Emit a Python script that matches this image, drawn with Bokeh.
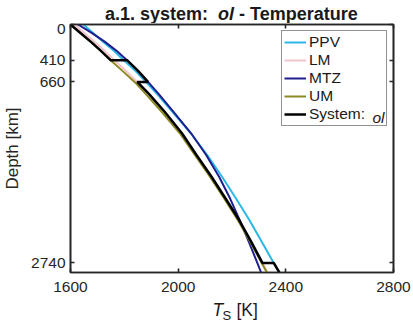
from bokeh.plotting import figure
from bokeh.layouts import column
from bokeh.models import Range1d, LinearAxis, FixedTicker, Legend, LegendItem, Label
from bokeh.embed import file_html
from bokeh.resources import INLINE

# Depth grid [km] and temperature profiles T_S [K] for each mantle layer
depth = [0, 100, 200, 300, 410, 530, 660, 800, 1000, 1250, 1500, 1750, 2000, 2250, 2500, 2740, 2850]
ppv = [1648, 1685, 1722, 1760, 1798, 1840, 1880, 1922, 1978, 2047, 2108, 2163, 2215, 2265, 2311, 2355, 2376]
lm = [1615, 1652, 1690, 1726, 1763, 1805, 1848, 1892, 1949, 2014, 2068, 2124, 2176, 2227, 2272, 2313, 2332]
mtz = [1628, 1680, 1728, 1770, 1810, 1850, 1888, 1928, 1982, 2048, 2104, 2152, 2193, 2229, 2263, 2294, 2308]
um = [1600, 1638, 1676, 1712, 1749, 1792, 1838, 1880, 1938, 2006, 2062, 2118, 2171, 2222, 2268, 2310, 2330]

# Layer boundaries used by the olivine system
boundaries = [0, 410, 660, 2740, 2850]
x_ticks = [1600, 2000, 2400, 2800]
y_ticks = [0, 410, 660, 2740]

FONT = "Liberation Sans"
INK = "#262626"
TEXT = "#1a1a1a"
W = 413

# System profile: UM above 410 km, MTZ to 660 km, LM to 2740 km, PPV below
system_layers = [um, mtz, lm, ppv]
sys_t, sys_d = [], []
for k, prof in enumerate(system_layers):
    lo, hi = boundaries[k], boundaries[k + 1]
    for d, t in zip(depth, prof):
        if lo <= d <= hi:
            sys_d.append(d)
            sys_t.append(t)


def text_strip(height):
    # Blank strip for rows of mixed-style text; its frame lines up with the
    # main panel's frame (70..393 px), so x data units equal page pixels
    f = figure(width=W, height=height, output_backend="svg", toolbar_location=None,
               x_range=Range1d(70, 393), y_range=Range1d(0, height),
               x_axis_location=None, y_axis_location=None, title=None,
               min_border_left=0, min_border_right=0, min_border_top=0, min_border_bottom=0)
    f.outline_line_color = None
    f.xgrid.visible = False
    f.ygrid.visible = False
    return f


def put(fig, x, y, text, size, style="normal", align="left", baseline="alphabetic", units="data"):
    fig.add_layout(Label(x=x, y=y, x_units=units, y_units=units, text=text,
                         text_font=FONT, text_font_size=size, text_font_style=style,
                         text_align=align, text_baseline=baseline, text_color=TEXT))


# Title row, centred over the frame
head = text_strip(23)
put(head, 207.5, 10, "a.1. system:", "18px", "bold", "right")
put(head, 225.5, 10, "ol", "18px", "bold italic", "center")
put(head, 238.5, 10, "- Temperature", "18px", "bold", "left")

# Main panel
p = figure(width=W, height=277, output_backend="svg", toolbar_location=None, title=None,
           x_range=Range1d(1600, 2800), y_range=Range1d(2850, 0),
           min_border_left=70, min_border_right=20, min_border_top=1, min_border_bottom=28)
p.xgrid.visible = False
p.ygrid.visible = False
p.outline_line_color = INK
p.outline_line_width = 1.6
p.background_fill_color = "white"
p.border_fill_color = "white"


def style_axis(ax, ticks, show_labels):
    ax.ticker = FixedTicker(ticks=ticks)
    ax.minor_tick_line_color = None
    ax.minor_tick_in = 0
    ax.minor_tick_out = 0
    ax.major_tick_in = 4
    ax.major_tick_out = 0
    ax.major_tick_line_color = INK
    ax.major_tick_line_width = 1.6
    ax.axis_line_color = INK
    ax.axis_line_width = 1.6
    ax.major_label_text_font = FONT
    ax.major_label_text_color = INK
    if show_labels:
        ax.major_label_text_font_size = "15.5px"
    else:
        ax.major_label_text_font_size = "0px"
        ax.major_label_standoff = 0
        ax.major_label_overrides = {t: "" for t in ticks}


style_axis(p.xaxis[0], x_ticks, True)
style_axis(p.yaxis[0], y_ticks, True)
p.xaxis[0].major_label_standoff = 9
p.yaxis[0].major_label_standoff = 5
p.yaxis[0].axis_label = "Depth [km]"
p.yaxis[0].axis_label_text_font = FONT
p.yaxis[0].axis_label_text_font_size = "17px"
p.yaxis[0].axis_label_text_font_style = "normal"
p.yaxis[0].axis_label_text_color = INK
p.yaxis[0].axis_label_standoff = 6

top_axis = LinearAxis()
style_axis(top_axis, x_ticks, False)
p.add_layout(top_axis, "above")
right_axis = LinearAxis()
style_axis(right_axis, y_ticks, False)
p.add_layout(right_axis, "right")

r_ppv = p.line(ppv, depth, line_color="#2bb8e6", line_width=2)
r_lm = p.line(lm, depth, line_color="#f2c4cc", line_width=2)
r_mtz = p.line(mtz, depth, line_color="#1f1f8f", line_width=2)
r_um = p.line(um, depth, line_color="#8c8a22", line_width=2)
r_sys = p.line(sys_t, sys_d, line_color="black", line_width=2.5)

# Italic mineral name of the last legend entry, seen through the legend box
put(p, 302, 155, "ol", "15.5px", "italic", "left", "middle", units="screen")

legend = Legend(items=[
    LegendItem(label="PPV", renderers=[r_ppv]),
    LegendItem(label="LM", renderers=[r_lm]),
    LegendItem(label="MTZ", renderers=[r_mtz]),
    LegendItem(label="UM", renderers=[r_um]),
    LegendItem(label="System:", renderers=[r_sys]),
], location=(211, 146), margin=0, padding=2, spacing=0,
    glyph_width=22, glyph_height=18, label_height=18, label_width=75, label_standoff=3,
    label_text_font=FONT, label_text_font_size="15.5px", label_text_color=TEXT,
    border_line_color=INK, border_line_width=1.6, background_fill_alpha=0)
p.add_layout(legend)

# x-axis title row: T_S [K]
foot = text_strip(31)
put(foot, 212, 22, "T", "17.5px", "italic", "left")
put(foot, 222, 16, "S", "13px", "normal", "left")
put(foot, 236, 22, "[K]", "17.5px", "normal", "left")

layout = column(head, p, foot, spacing=0)
open("out.html", "w").write(file_html(layout, INLINE))
